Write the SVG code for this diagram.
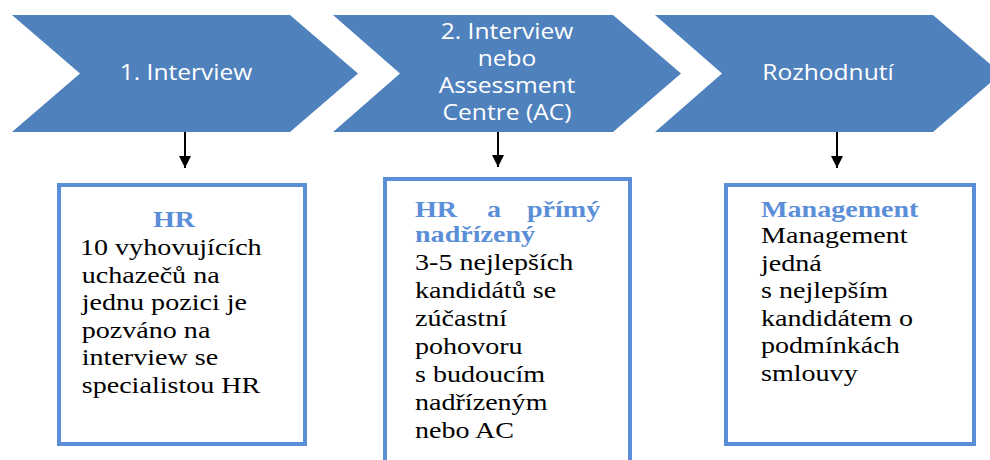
<svg xmlns="http://www.w3.org/2000/svg" width="990" height="460" viewBox="0 0 990 460">
  <style>
    .chev { fill: #4F81BD; }
    .chev-label { font-family: "Open Sans", "Noto Sans", sans-serif; font-size: 21px; fill: #FFFFFF; text-anchor: middle; }
    .box { fill: #FFFFFF; stroke: #5A8ED6; stroke-width: 4; }
    .head { font-family: "Liberation Serif", "Times New Roman", serif; font-size: 24px; font-weight: bold; fill: #5B8ED8; }
    .body { font-family: "Liberation Serif", "Times New Roman", serif; font-size: 24px; fill: #000000; }
    .link { stroke: #000000; stroke-width: 2; fill: none; marker-end: url(#arrow); }
  </style>
  <defs>
    <marker id="arrow" viewBox="0 0 12 12" refX="12" refY="6" markerWidth="12" markerHeight="12" markerUnits="userSpaceOnUse" orient="auto">
      <path d="M0,0 L12,6 L0,12 Z" fill="#000000"/>
    </marker>
  </defs>

  <rect width="990" height="460" fill="#FFFFFF"/>

  <!-- process steps (chevrons) -->
  <g id="step1">
    <polygon class="chev" points="12,15 290,15 358,73.5 290,132 12,132 80,73.5"/>
    <text class="chev-label" transform="translate(186,80) scale(1.17,1)">1. Interview</text>
  </g>
  <g id="step2">
    <polygon class="chev" points="333,15 613,15 681,73.5 613,132 333,132 400,73.5"/>
    <text class="chev-label" transform="translate(507,39) scale(1.17,1)">2. Interview</text>
    <text class="chev-label" transform="translate(507,66) scale(1.17,1)">nebo</text>
    <text class="chev-label" transform="translate(507,93) scale(1.17,1)">Assessment</text>
    <text class="chev-label" transform="translate(507,120) scale(1.17,1)">Centre (AC)</text>
  </g>
  <g id="step3">
    <polygon class="chev" points="655,15 933,15 1001,73.5 933,132 655,132 722,73.5"/>
    <text class="chev-label" transform="translate(828,80) scale(1.17,1)">Rozhodnutí</text>
  </g>

  <!-- connectors from steps to detail boxes -->
  <g id="connectors">
    <line class="link" x1="185" y1="132" x2="185" y2="168"/>
    <line class="link" x1="498" y1="132" x2="498" y2="167"/>
    <line class="link" x1="837" y1="132" x2="837" y2="168"/>
  </g>

  <!-- detail boxes -->
  <g id="box1">
    <rect class="box" x="59" y="185" width="246" height="259"/>
    <g transform="translate(80,0) scale(1.17,1)">
      <text class="head" x="62.4" y="227">HR</text>
      <text class="body" x="0" y="255">10 vyhovujících</text>
      <text class="body" x="1.5" y="282.6">uchazečů na</text>
      <text class="body" x="1.5" y="310.2">jednu pozici je</text>
      <text class="body" x="1.5" y="337.8">pozváno na</text>
      <text class="body" x="1.5" y="365.4">interview se</text>
      <text class="body" x="1.5" y="393">specialistou HR</text>
    </g>
  </g>

  <g id="box2">
    <rect class="box" x="385" y="179" width="245" height="300"/>
    <g transform="translate(415,0) scale(1.17,1)">
      <text class="head" y="217"><tspan x="0">HR</tspan><tspan x="61.5">a</tspan><tspan x="95.7">přímý</tspan></text>
      <text class="head" x="0" y="242">nadřízený</text>
      <text class="body" x="0" y="270">3-5 nejlepších</text>
      <text class="body" x="0" y="298">kandidátů se</text>
      <text class="body" x="0" y="326">zúčastní</text>
      <text class="body" x="0" y="354">pohovoru</text>
      <text class="body" x="0" y="382">s budoucím</text>
      <text class="body" x="0" y="410">nadřízeným</text>
      <text class="body" x="0" y="438">nebo AC</text>
    </g>
  </g>

  <g id="box3">
    <rect class="box" x="726" y="185" width="248" height="259"/>
    <g transform="translate(761,0) scale(1.17,1)">
      <text class="head" x="0" y="217">Management</text>
      <text class="body" x="0" y="243">Management</text>
      <text class="body" x="0" y="270.6">jedná</text>
      <text class="body" x="0" y="298.2">s nejlepším</text>
      <text class="body" x="0" y="325.8">kandidátem o</text>
      <text class="body" x="0" y="353.4">podmínkách</text>
      <text class="body" x="0" y="381">smlouvy</text>
    </g>
  </g>
</svg>
